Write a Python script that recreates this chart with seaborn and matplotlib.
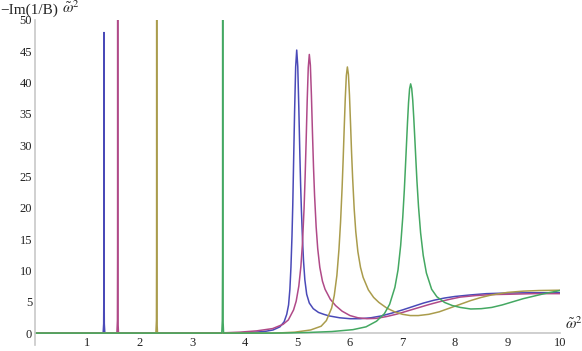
import matplotlib
matplotlib.use('Agg')
import matplotlib.pyplot as plt
import pandas as pd
import seaborn as sns

# -Im(1/B) vs omega~^2 for four parameter sets
blue_x = [0.0, 1.298, 1.308, 1.312, 1.314, 1.316, 1.320, 1.330,
          3.8, 4.0, 4.2, 4.4, 4.535, 4.665, 4.745, 4.795, 4.83, 4.855, 4.875, 4.895, 4.91, 4.925,
          4.945, 4.965, 4.985, 5.005, 5.025, 5.045, 5.06, 5.075, 5.095, 5.115, 5.14, 5.175, 5.225,
          5.3, 5.4, 5.5, 5.6, 5.8, 6.0, 6.2, 6.4, 6.6, 6.8, 7.0, 7.2, 7.4, 7.6, 7.8, 8.0, 8.3,
          8.6, 9.0, 9.5, 10.0]
blue_y = [0.0, 0.0, 1.5, 8.0, 48.0, 8.0, 1.5, 0.0,
          0.02, 0.07, 0.15, 0.3, 0.5, 1.0, 1.8, 3.0, 4.5, 7.0, 10.5, 15.5, 20.5, 27.0,
          35.5, 42.5, 45.2, 42.6, 36.0, 28.5, 23.5, 19.5, 15.0, 11.5, 8.5, 6.2, 4.8,
          3.9, 3.3, 3.0, 2.75, 2.45, 2.3, 2.3, 2.45, 2.75, 3.2, 3.7, 4.25, 4.8, 5.25, 5.6, 5.85,
          6.1, 6.3, 6.4, 6.45, 6.45]

purple_x = [0.0, 1.560, 1.570, 1.573, 1.575, 1.577, 1.580, 1.590,
            3.6, 3.9, 4.225, 4.525, 4.725, 4.825, 4.925, 4.975, 5.025, 5.065, 5.095, 5.125, 5.145,
            5.165, 5.185, 5.205, 5.225, 5.245, 5.265, 5.285, 5.305, 5.325, 5.355, 5.385, 5.425,
            5.475, 5.525, 5.625, 5.725, 5.85, 6.0, 6.15, 6.32, 6.5, 6.7, 6.9, 7.1, 7.3, 7.5, 7.7,
            7.9, 8.1, 8.4, 8.7, 9.0, 9.5, 10.0]
purple_y = [0.0, 0.0, 2.0, 12.0, 60.0, 12.0, 2.0, 0.0,
            0.05, 0.15, 0.36, 0.72, 1.4, 2.1, 3.7, 5.1, 7.5, 10.7, 14.4, 19.9, 24.9,
            30.8, 37.2, 42.4, 44.5, 42.8, 38.0, 32.0, 26.5, 22.0, 17.0, 13.5, 10.5,
            8.3, 7.0, 5.4, 4.4, 3.5, 2.8, 2.45, 2.3, 2.35, 2.65, 3.05, 3.55, 4.05, 4.55, 5.0,
            5.4, 5.75, 6.0, 6.15, 6.2, 6.3, 6.3]

yellow_x = [0.0, 2.303, 2.313, 2.316, 2.318, 2.320, 2.323, 2.333,
            4.5, 4.7, 4.95, 5.25, 5.45, 5.55, 5.65, 5.70, 5.75, 5.79, 5.82, 5.85, 5.87, 5.89,
            5.91, 5.93, 5.95, 5.97, 5.99, 6.01, 6.03, 6.05, 6.08, 6.11, 6.15, 6.2, 6.25, 6.35,
            6.45, 6.55, 6.7, 6.85, 7.0, 7.15, 7.3, 7.5, 7.7, 7.9, 8.1, 8.3, 8.5, 8.7, 9.0, 9.3,
            9.6, 10.0]
yellow_y = [0.0, 0.0, 2.0, 12.0, 60.0, 12.0, 2.0, 0.0,
            0.0, 0.05, 0.15, 0.5, 1.1, 2.0, 4.0, 6.0, 9.2, 13.4, 17.7, 23.3, 27.8, 32.8,
            37.5, 41.1, 42.5, 41.3, 38.0, 33.5, 28.8, 24.8, 19.8, 16.2, 13.0, 10.5, 8.9, 6.9,
            5.7, 4.9, 4.0, 3.4, 3.0, 2.8, 2.8, 3.0, 3.4, 4.0, 4.6, 5.2, 5.7, 6.1, 6.5, 6.7,
            6.8, 6.85]

green_x = [0.0, 3.558, 3.568, 3.573, 3.575, 3.577, 3.582, 3.592,
           4.5, 4.8, 5.2, 5.655, 6.055, 6.305, 6.505, 6.655, 6.755, 6.855, 6.915, 6.965, 7.005,
           7.035, 7.055, 7.075, 7.095, 7.115, 7.135, 7.155, 7.175, 7.195, 7.215, 7.235, 7.255,
           7.275, 7.305, 7.345, 7.395, 7.455, 7.555, 7.655, 7.8, 7.95, 8.1, 8.3, 8.5, 8.7, 8.9,
           9.1, 9.3, 9.5, 9.7, 9.85, 10.0]
green_y = [0.0, 0.0, 2.0, 12.0, 60.0, 12.0, 2.0, 0.0,
           0.0, 0.03, 0.1, 0.25, 0.55, 1.0, 1.9, 3.1, 4.6, 7.3, 10.1, 14.0, 18.5,
           22.9, 26.4, 30.0, 33.6, 36.8, 39.0, 39.8, 39.1, 37.2, 34.3, 31.0, 27.6,
           24.3, 20.2, 16.0, 12.4, 9.6, 7.0, 5.8, 4.9, 4.4, 4.1, 3.85, 3.9, 4.1, 4.5,
           5.0, 5.5, 5.9, 6.3, 6.55, 6.8]

series = ['a', 'b', 'c', 'd']
colors = ['#4a4ab8', '#b04a88', '#aa9c4c', '#44a862']

frames = []
for name, xs, ys in zip(series, [blue_x, purple_x, yellow_x, green_x],
                        [blue_y, purple_y, yellow_y, green_y]):
    frames.append(pd.DataFrame({'x': xs, 'y': ys, 'series': name}))
df = pd.concat(frames, ignore_index=True)

sns.set_style('white')
plt.rcParams['font.family'] = ['Liberation Serif', 'DejaVu Serif']
plt.rcParams['mathtext.fontset'] = 'stix'

fig = plt.figure(figsize=(5.82, 3.51), dpi=100)
ax = fig.add_axes([35 / 582, 6 / 351, 525 / 582, 325 / 351])

sns.lineplot(data=df, x='x', y='y', hue='series', palette=colors, estimator=None,
             sort=False, legend=False, lw=1.1, ax=ax)

ax.set_xlim(0, 10)
ax.set_ylim(-1.9, 50)
ax.spines['top'].set_visible(False)
ax.spines['right'].set_visible(False)
ax.spines['bottom'].set_position(('data', 0))
for s in ['left', 'bottom']:
    ax.spines[s].set_color('#c8c8c8')
    ax.spines[s].set_linewidth(1.2)
ax.spines['bottom'].set_zorder(0)

ax.set_xticks(range(1, 11))
ax.set_yticks(range(0, 51, 5))
ax.tick_params(axis='both', direction='in', length=3, width=0.8, color='#aaaaaa',
               labelsize=9, labelcolor='#222222')
ax.tick_params(axis='x', pad=3)
ax.tick_params(axis='y', pad=2)
ax.set_xlabel('')
ax.set_ylabel('')

ax.text(10.1, 0.2, r'$\tilde{\omega}^2$', fontsize=11, ha='left', va='bottom')
# axis label in two pieces: plain text part and the omega part
fig.text(0.0, 0.962, '\u2212Im(1/B)', fontsize=11, ha='left', va='baseline')
fig.text(62 / 582, 0.962, r'$\tilde{\omega}^2$', fontsize=11, ha='left', va='baseline')

fig.savefig('out.png', dpi=100)
plt.close(fig)
